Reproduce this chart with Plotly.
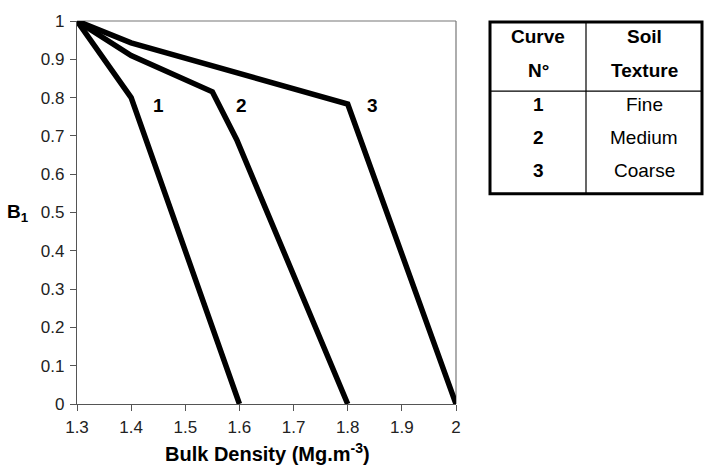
import plotly.graph_objects as go

# Data
curve1_x = [1.3, 1.4, 1.6]
curve1_y = [1.0, 0.80, 0.0]
curve2_x = [1.3, 1.4, 1.55, 1.595, 1.8]
curve2_y = [1.0, 0.91, 0.815, 0.69, 0.0]
curve3_x = [1.3, 1.4, 1.8, 2.0]
curve3_y = [1.0, 0.943, 0.783, 0.0]
curve_labels = ["1", "2", "3"]
label_x = [1.45, 1.604, 1.846]
label_y = [0.77, 0.77, 0.77]
table_curve = ["1", "2", "3"]
table_texture = ["Fine", "Medium", "Coarse"]
x_ticks = [1.3, 1.4, 1.5, 1.6, 1.7, 1.8, 1.9, 2.0]
x_ticklabels = ["1.3", "1.4", "1.5", "1.6", "1.7", "1.8", "1.9", "2"]
y_ticks = [0, 0.1, 0.2, 0.3, 0.4, 0.5, 0.6, 0.7, 0.8, 0.9, 1.0]
y_ticklabels = ["0", "0.1", "0.2", "0.3", "0.4", "0.5", "0.6", "0.7", "0.8", "0.9", "1"]

W, H = 705, 470
L, R, T, B = 77, 456, 16, 404
FONT = "Liberation Sans, Arial, sans-serif"


def px(xp):
    return (xp - L) / (R - L)


def py(yp):
    return (B - yp) / (B - T)


def ann(x, y, text, size, xref="paper", yref="paper", yshift=0):
    return dict(x=x, y=y, xref=xref, yref=yref, text=text, showarrow=False,
                xanchor="center", yanchor="middle", yshift=yshift,
                font=dict(size=size, color="black", family=FONT))


fig = go.Figure()
for xs, ys in [(curve1_x, curve1_y), (curve2_x, curve2_y), (curve3_x, curve3_y)]:
    fig.add_trace(go.Scatter(x=xs, y=ys, mode="lines",
                             line=dict(color="black", width=5.5),
                             showlegend=False, hoverinfo="skip"))

annotations = []
for lx, ly, t in zip(label_x, label_y, curve_labels):
    annotations.append(ann(lx, ly, f"<b>{t}</b>", 19, "x", "y", yshift=4))

# axis titles
annotations.append(ann(px(267), py(453), "<b>Bulk Density (Mg.m<sup>-3</sup>)</b>", 20))
annotations.append(ann(px(18), py(210), "<b>B<sub>1</sub></b>", 19))

# table
tl, tr, tt, tb = 490, 702, 17, 191
tmid, thead = 586, 87
c1 = (tl + tmid) / 2
c2 = (tmid + tr) / 2
shapes = [
    dict(type="rect", xref="paper", yref="paper", x0=px(tl), x1=px(tr), y0=py(tb), y1=py(tt),
         line=dict(color="black", width=3)),
    dict(type="line", xref="paper", yref="paper", x0=px(tmid), x1=px(tmid), y0=py(tb), y1=py(tt),
         line=dict(color="black", width=1.2)),
    dict(type="line", xref="paper", yref="paper", x0=px(tl), x1=px(tr), y0=py(thead), y1=py(thead),
         line=dict(color="black", width=1.2)),
]
header_rows = [("Curve", "Soil", 32), ("N°", "Texture", 66)]
for a, b_, yp in header_rows:
    annotations.append(ann(px(c1), py(yp), f"<b>{a}</b>", 19))
    annotations.append(ann(px(c2), py(yp), f"<b>{b_}</b>", 19))
row_y = [101, 134, 167]
for n, tex, yp in zip(table_curve, table_texture, row_y):
    annotations.append(ann(px(c1), py(yp), f"<b>{n}</b>", 19))
    annotations.append(ann(px(c2), py(yp), tex, 19))

# top and right frame lines
shapes.append(dict(type="line", xref="paper", yref="paper", x0=0, x1=1, y0=1, y1=1,
                   line=dict(color="#777", width=1.2), layer="below"))
shapes.append(dict(type="line", xref="paper", yref="paper", x0=1, x1=1, y0=0, y1=1,
                   line=dict(color="#777", width=1.2), layer="below"))

fig.update_layout(
    width=W, height=H,
    margin=dict(l=L, r=W - R, t=T, b=H - B),
    paper_bgcolor="white", plot_bgcolor="white",
    font=dict(family=FONT, size=17, color="#222"),
    annotations=annotations, shapes=shapes,
    xaxis=dict(range=[1.3, 2.0], tickvals=x_ticks, ticktext=x_ticklabels,
               showgrid=False, zeroline=False, showline=True, linecolor="#555", linewidth=1.2,
               ticks="outside", ticklen=6, tickcolor="#555", ticklabelstandoff=1,
               tickfont=dict(size=17, color="#222", family=FONT)),
    yaxis=dict(range=[0, 1.0], tickvals=y_ticks, ticktext=y_ticklabels,
               showgrid=False, zeroline=False, showline=True, linecolor="#555", linewidth=1.2,
               ticks="outside", ticklen=6, tickcolor="#555", ticklabelstandoff=2,
               tickfont=dict(size=17, color="#222", family=FONT)),
)

fig.write_html("out.html")
